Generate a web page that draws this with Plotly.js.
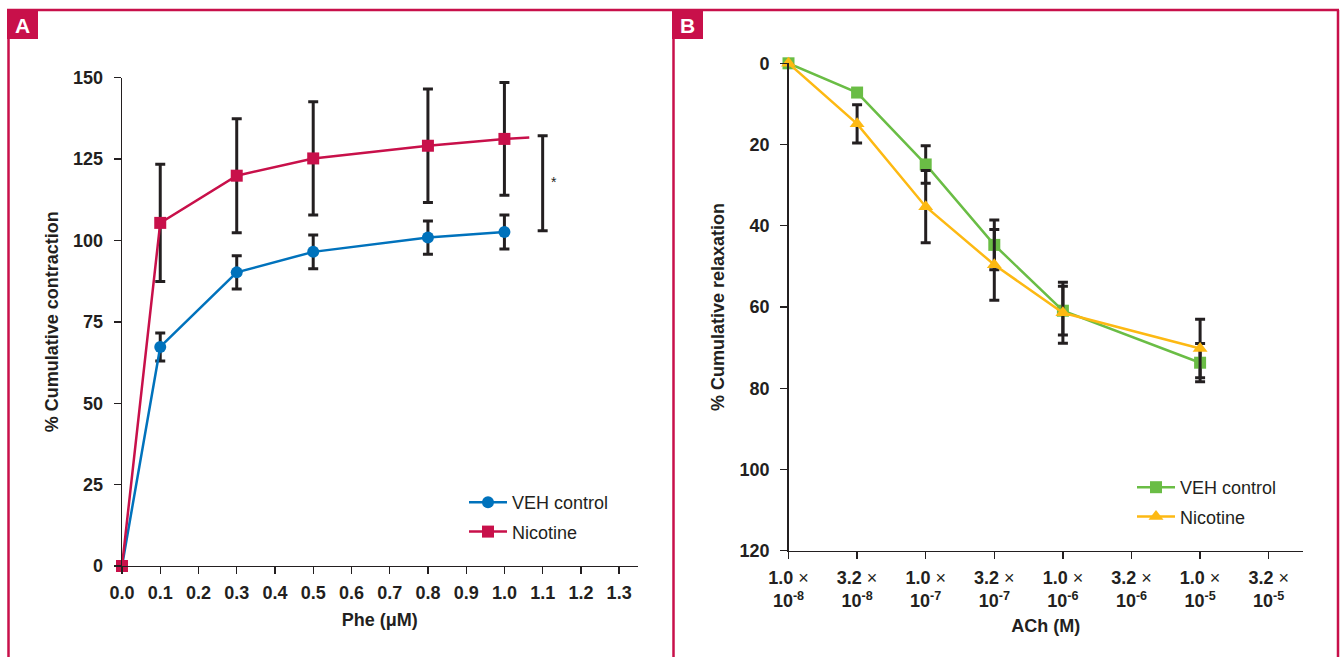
<!DOCTYPE html>
<html>
<head>
<meta charset="utf-8">
<script src="https://cdn.plot.ly/plotly-3.0.1.min.js"></script>
<style>html,body{margin:0;padding:0;background:#fff;}#chart{width:1341px;height:657px;}</style>
</head>
<body>
<div id="chart"></div>
<script>
// ---------- Panel A data ----------
const pheDose = [0, 0.1, 0.3, 0.5, 0.8, 1.0];
const vehA = [0, 67.3, 90.2, 96.5, 100.9, 102.6];
const vehAErr = [0, 4.3, 5.1, 5.2, 5.1, 5.2];
const nicA = [0, 105.4, 119.9, 125.2, 129.1, 131.2];
const nicAErr = [0, 18.0, 17.5, 17.4, 17.4, 17.3];
const nicTailX = [1.0, 1.065];
const nicTailY = [131.2, 131.6];
const sigX = [1.1];
const sigY = [117.6];
const sigErr = [14.6];
const pheTickVals = [0, 0.1, 0.2, 0.3, 0.4, 0.5, 0.6, 0.7, 0.8, 0.9, 1.0, 1.1, 1.2, 1.3];
const pheTickText = ['0.0','0.1','0.2','0.3','0.4','0.5','0.6','0.7','0.8','0.9','1.0','1.1','1.2','1.3'];
const contrTicks = [0, 25, 50, 75, 100, 125, 150];

// ---------- Panel B data ----------
const achTickVals = [0, 1, 2, 3, 4, 5, 6, 7];
const achMantissa = ['1.0', '3.2', '1.0', '3.2', '1.0', '3.2', '1.0', '3.2'];
const achExponent = ['-8', '-8', '-7', '-7', '-6', '-6', '-5', '-5'];
const achIdx = [0, 1, 2, 3, 4, 6];
const vehB = [0, 7.2, 24.9, 44.7, 60.9, 73.7];
const vehBErr = [0, 0, 4.6, 6.1, 6.0, 4.7];
const nicB = [0, 14.9, 35.3, 49.6, 61.4, 70.2];
const nicBErr = [0, 4.7, 8.9, 8.7, 7.5, 7.2];
const relaxTicks = [0, 20, 40, 60, 80, 100, 120];

const achTickText = achMantissa.map((m, i) =>
  m + ' <span style="font-weight:normal">×</span><br>10<sup>' + achExponent[i] + '</sup>');

// ---------- styles ----------
const INK = '#231F20';
const CRIMSON = '#C8104A';
const BLUE = '#0072BC';
const GREEN = '#6ABD45';
const GOLD = '#FDB913';
const W = 1341, H = 657;
const px = v => v / W;
const py = v => 1 - v / H;
const FONT = 'Liberation Sans, Arial, Helvetica, sans-serif';

function errStyle(arr) {
  return {type: 'data', array: arr, visible: true, color: INK, thickness: 3, width: 5};
}

const traces = [
  {x: pheDose, y: vehA, name: 'VEH control', type: 'scatter', mode: 'lines+markers',
   xaxis: 'x', yaxis: 'y', legend: 'legend', legendgroup: 'a1', cliponaxis: false,
   line: {color: BLUE, width: 2.5}, marker: {symbol: 'circle', size: 12, color: BLUE},
   error_y: errStyle(vehAErr)},
  {x: nicTailX, y: nicTailY, type: 'scatter', mode: 'lines', showlegend: false, hoverinfo: 'skip',
   xaxis: 'x', yaxis: 'y', cliponaxis: false, line: {color: CRIMSON, width: 2.5}},
  {x: pheDose, y: nicA, name: 'Nicotine', type: 'scatter', mode: 'lines+markers',
   xaxis: 'x', yaxis: 'y', legend: 'legend', legendgroup: 'a2', cliponaxis: false,
   line: {color: CRIMSON, width: 2.5}, marker: {symbol: 'square', size: 12, color: CRIMSON},
   error_y: errStyle(nicAErr)},
  {x: sigX, y: sigY, type: 'scatter', mode: 'markers', showlegend: false, hoverinfo: 'skip',
   xaxis: 'x', yaxis: 'y', cliponaxis: false, marker: {size: 1, color: 'rgba(0,0,0,0)'},
   error_y: errStyle(sigErr)},
  {x: achIdx, y: vehB, name: 'VEH control', type: 'scatter', mode: 'lines+markers',
   xaxis: 'x2', yaxis: 'y2', legend: 'legend2', legendgroup: 'b1', cliponaxis: false,
   line: {color: GREEN, width: 2.5}, marker: {symbol: 'square', size: 12, color: GREEN},
   error_y: errStyle(vehBErr)},
  {x: achIdx, y: nicB, name: 'Nicotine', type: 'scatter', mode: 'lines+markers',
   xaxis: 'x2', yaxis: 'y2', legend: 'legend2', legendgroup: 'b2', cliponaxis: false,
   line: {color: GOLD, width: 2.5}, marker: {symbol: 'triangle-up', size: 13, color: GOLD},
   error_y: errStyle(nicBErr)}
];

const axisCommon = {
  showline: true, linecolor: INK, linewidth: 1.3, ticks: 'outside', ticklen: 7,
  tickcolor: INK, tickwidth: 1.3, showgrid: false, zeroline: false, fixedrange: true,
  tickfont: {family: FONT, size: 18, color: INK, weight: 'bold'}
};
const titleFont = {family: FONT, size: 18, color: INK, weight: 'bold'};

const frame = {type: 'line', xref: 'paper', yref: 'paper', layer: 'below', line: {color: CRIMSON, width: 2.5}};
const legendCommon = {xanchor: 'left', yanchor: 'top', bgcolor: 'rgba(0,0,0,0)',
  font: {family: FONT, size: 18, color: INK}, itemwidth: 38, traceorder: 'grouped', tracegroupgap: 3};
const labelFont = {family: FONT, size: 21, color: '#ffffff', weight: 'bold'};
const layout = {
  width: W, height: H,
  margin: {l: 0, r: 0, t: 0, b: 0},
  paper_bgcolor: '#ffffff', plot_bgcolor: 'rgba(0,0,0,0)',
  font: {family: FONT, color: INK, size: 18},
  showlegend: true,
  xaxis: Object.assign({}, axisCommon, {
    domain: [px(122), px(637.5)], range: [0, 1.348], anchor: 'y',
    tickmode: 'array', tickvals: pheTickVals, ticktext: pheTickText, ticklabelstandoff: 3,
    title: {text: 'Phe (μM)', font: titleFont, standoff: 11}
  }),
  yaxis: Object.assign({}, axisCommon, {
    domain: [py(566), py(77.7)], range: [0, 150], anchor: 'x',
    tickmode: 'array', tickvals: contrTicks, ticklabelstandoff: 7,
    title: {text: '% Cumulative contraction', font: titleFont, standoff: 9}
  }),
  xaxis2: Object.assign({}, axisCommon, {
    domain: [px(788.5), px(1303)], range: [0, 7.5], anchor: 'y2',
    tickmode: 'array', tickvals: achTickVals, ticktext: achTickText, ticklabelstandoff: 3,
    title: {text: 'ACh (M)', font: titleFont, standoff: 9}
  }),
  yaxis2: Object.assign({}, axisCommon, {
    domain: [py(550.8), py(63.3)], range: [120, 0], anchor: 'x2',
    tickmode: 'array', tickvals: relaxTicks, ticklabelstandoff: 7,
    title: {text: '% Cumulative relaxation', font: titleFont, standoff: 10}
  }),
  legend: Object.assign({}, legendCommon, {x: px(464), y: py(484)}),
  legend2: Object.assign({}, legendCommon, {x: px(1132), y: py(469)}),
  shapes: [
    Object.assign({}, frame, {x0: px(7), x1: px(1339), y0: py(10), y1: py(10)}),
    Object.assign({}, frame, {x0: px(8.5), x1: px(8.5), y0: py(10), y1: py(657)}),
    Object.assign({}, frame, {x0: px(673.5), x1: px(673.5), y0: py(10), y1: py(657)}),
    Object.assign({}, frame, {x0: px(1338), x1: px(1338), y0: py(10), y1: py(657)}),
    {type: 'rect', xref: 'paper', yref: 'paper', layer: 'below', x0: px(7), x1: px(38), y0: py(39), y1: py(9),
     fillcolor: CRIMSON, line: {width: 0}},
    {type: 'rect', xref: 'paper', yref: 'paper', layer: 'below', x0: px(672), x1: px(703), y0: py(39), y1: py(9),
     fillcolor: CRIMSON, line: {width: 0}}
  ],
  annotations: [
    {text: 'A', xref: 'paper', yref: 'paper', x: px(22.5), y: py(25), xanchor: 'center', yanchor: 'middle',
     showarrow: false, font: labelFont},
    {text: 'B', xref: 'paper', yref: 'paper', x: px(687.5), y: py(25), xanchor: 'center', yanchor: 'middle',
     showarrow: false, font: labelFont},
    {text: '*', xref: 'x', yref: 'y', x: 1.13, y: 118, xanchor: 'center', yanchor: 'middle',
     showarrow: false, font: {family: FONT, size: 14, color: INK}}
  ]
};

Plotly.newPlot('chart', traces, layout, {staticPlot: true, displayModeBar: false});
</script>
</body>
</html>
